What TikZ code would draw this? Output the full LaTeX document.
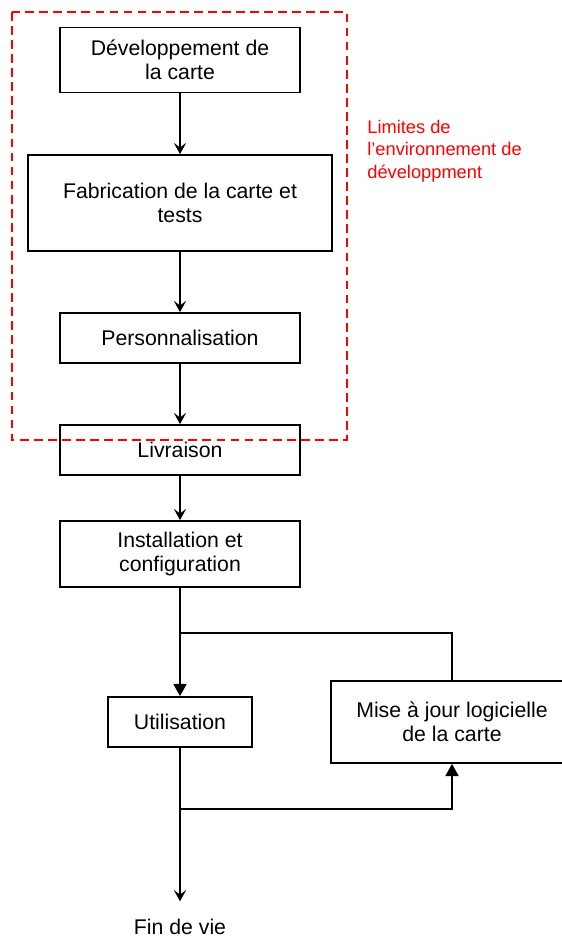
\documentclass[tikz,border=0pt]{standalone}
\usepackage{fontspec}
\setmainfont{Liberation Sans}
\usetikzlibrary{positioning,arrows.meta}

\begin{document}
\begin{tikzpicture}[x=0.02cm,y=-0.02cm,
  boite/.style={draw,line width=1pt,align=center,inner sep=0pt,font=\fontsize{12.1}{13.6}\selectfont},
  fleche/.style={line width=1pt,-{Stealth[length=6.4pt,width=7pt,inset=2.6pt]}},
  pleine/.style={line width=1pt,-{Triangle[length=7pt,width=7.5pt]}}]
\useasboundingbox (0,0) rectangle (562,938);
\clip (0,0) rectangle (562,938);

% les etapes
\node[boite,minimum width=4.8cm,minimum height=1.3cm] (dev) at (180,60) {Développement de\\la carte};
\node[boite,minimum width=6.08cm,minimum height=1.92cm] (fab) at (180,203) {Fabrication de la carte et\\tests};
\node[boite,minimum width=4.8cm,minimum height=1cm] (perso) at (180,338) {Personnalisation};
\node[boite,minimum width=4.8cm,minimum height=1cm] (livr) at (180,450) {Livraison};
\node[boite,minimum width=4.8cm,minimum height=1.32cm] (install) at (180,554) {Installation et\\configuration};
\node[boite,minimum width=2.88cm,minimum height=1cm] (util) at (180,722) {Utilisation};
\node[boite,minimum width=4.84cm,minimum height=1.64cm] (maj) at (452,722) {Mise à jour logicielle\\de la carte};
\node[font=\fontsize{12.1}{13.6}\selectfont,inner xsep=0pt,inner ysep=10pt] (fin) at (180,927) {Fin de vie};

\draw[red,line width=1pt,dash pattern=on 5pt off 3pt] (12,12) rectangle (347,440);
\node[red,anchor=west,align=left,inner sep=0pt,font=\fontsize{10.4}{12.8}\selectfont] (limites) at (367,151) {Limites de\\l’environnement de\\développment};

\draw[fleche] (dev) -- (fab);
\draw[fleche] (fab) -- (perso);
\draw[fleche] (perso) -- (livr);
\draw[fleche] (livr) -- (install);
\draw[pleine] (install) -- (util);

\coordinate (haut) at (180,633);
\coordinate (bas) at (180,809);
\draw[line width=1pt] (maj.north) |- (haut);
\draw[fleche] (util) -- (fin);
\draw[pleine] (bas) -| (maj.south);

\end{tikzpicture}
\end{document}
